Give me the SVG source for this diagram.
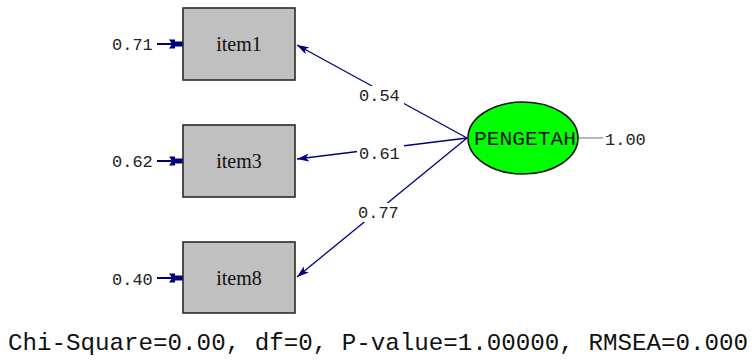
<svg xmlns="http://www.w3.org/2000/svg" width="752" height="360" viewBox="0 0 752 360">
  <defs>
    <marker id="head" viewBox="0 0 12 8" refX="12" refY="4" markerWidth="12" markerHeight="8" markerUnits="userSpaceOnUse" orient="auto">
      <path d="M0,0 L12,4 L0,8 L3,4 Z" fill="#00007F"/>
    </marker>
    <marker id="errhead" viewBox="0 0 14 10" refX="14" refY="5" markerWidth="14" markerHeight="10" markerUnits="userSpaceOnUse" orient="auto">
      <path d="M0,0.5 L6,0.5 L6,2.5 L14,2.5 L14,7.5 L6,7.5 L6,9.5 L0,9.5 L3,5 Z" fill="#00007F"/>
    </marker>
    <style>
      .box { fill: #C0C0C0; stroke: #2a2a2a; stroke-width: 1.6; }
      .name { font-family: "Liberation Serif", serif; font-size: 20px; fill: #111; text-anchor: middle; }
      .num { font-family: "Liberation Mono", monospace; font-size: 17px; fill: #222; }
      .path { stroke: #00007F; stroke-width: 1.3; fill: none; marker-end: url(#head); }
      .err { stroke: #00007F; stroke-width: 2; fill: none; marker-end: url(#errhead); }
      .bg { fill: #fff; }
    </style>
  </defs>

  <!-- loading paths from the latent variable -->
  <g id="connectors">
    <line class="path" x1="467" y1="138" x2="297" y2="45"/>
    <line class="path" x1="467" y1="138" x2="297" y2="159"/>
    <line class="path" x1="467" y1="138" x2="297" y2="277"/>
    <line class="err" x1="157" y1="44" x2="183" y2="44"/>
    <line class="err" x1="157" y1="161" x2="183" y2="161"/>
    <line class="err" x1="157" y1="278" x2="183" y2="278"/>
    <line x1="579" y1="138" x2="603" y2="138" stroke="#A0A0A0" stroke-width="1.5"/>
    <rect class="bg" x="357" y="86" width="47" height="19"/>
    <rect class="bg" x="357" y="144" width="47" height="19"/>
    <rect class="bg" x="356" y="203" width="47" height="19"/>
    <text class="num" x="359" y="101">0.54</text>
    <text class="num" x="359" y="159">0.61</text>
    <text class="num" x="358" y="218">0.77</text>
  </g>

  <g id="item1">
    <rect class="box" x="183" y="8" width="112" height="72"/>
    <text class="name" x="239" y="51">item1</text>
    <text class="num" x="112" y="50">0.71</text>
  </g>

  <g id="item3">
    <rect class="box" x="183" y="125" width="112" height="72"/>
    <text class="name" x="239" y="168">item3</text>
    <text class="num" x="112" y="167">0.62</text>
  </g>

  <g id="item8">
    <rect class="box" x="183" y="242" width="112" height="71"/>
    <text class="name" x="239" y="285">item8</text>
    <text class="num" x="112" y="285">0.40</text>
  </g>

  <g id="PENGETAH">
    <ellipse cx="523" cy="138" rx="55" ry="36" fill="#00FF00" stroke="#111" stroke-width="1.6"/>
    <text x="525" y="145" font-family="Liberation Mono, monospace" font-size="20" fill="#111" text-anchor="middle" textLength="102" lengthAdjust="spacingAndGlyphs">PENGETAH</text>
    <text class="num" x="605" y="145">1.00</text>
  </g>

  <text x="8" y="350" font-family="Liberation Mono, monospace" font-size="24" fill="#111" textLength="740" lengthAdjust="spacingAndGlyphs">Chi-Square=0.00, df=0, P-value=1.00000, RMSEA=0.000</text>
</svg>
